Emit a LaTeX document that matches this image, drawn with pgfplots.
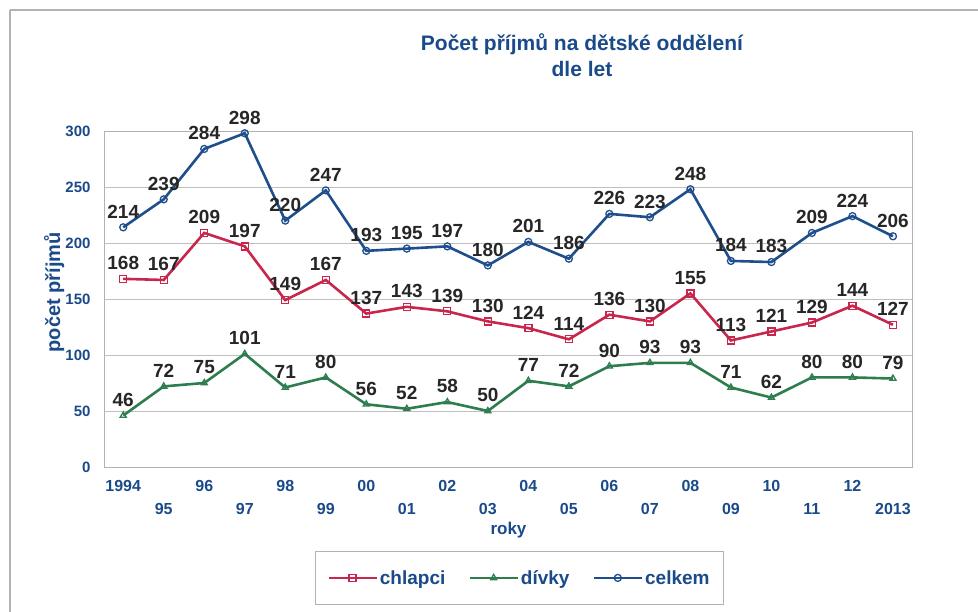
\documentclass[border=0pt]{standalone}
\usepackage{pgfplots}
\pgfplotsset{compat=1.18}
\usepackage{fontspec}
\setmainfont{Liberation Sans}
\definecolor{cred}{HTML}{C8264C}
\definecolor{cgreen}{HTML}{2E7D4F}
\definecolor{cblue}{HTML}{1F4E8C}
\definecolor{tblue}{HTML}{1A4A8A}
\newcommand{\sr}{\rule{0pt}{11.5pt}}
\begin{document}
\begin{tikzpicture}
\useasboundingbox (0pt,0pt) rectangle (978pt,-611pt);
\draw[gray!60, line width=1.2pt] (10pt,-10pt) -- (990pt,-10pt);
\draw[gray!60, line width=1.2pt] (10pt,-10pt) -- (10pt,-620pt);
\node[font=\bfseries\fontsize{21}{26}\selectfont, text=tblue, align=center] at (582pt,-55pt) {Počet příjmů na dětské oddělení\\dle let};
\begin{axis}[
  at={(105pt,-467pt)}, anchor=south west,
  scale only axis, width=807pt, height=336pt,
  xmin=-0.45, xmax=19.47, ymin=0, ymax=300,
  ytick={0,50,...,300},
  xtick={0,...,19},
  xticklabels={1994,{\sr\\95},96,{\sr\\97},98,{\sr\\99},00,{\sr\\01},02,{\sr\\03},04,{\sr\\05},06,{\sr\\07},08,{\sr\\09},10,{\sr\\11},12,{\sr\\2013}},
  xticklabel style={align=center, font=\bfseries\fontsize{16}{22}\selectfont, text=tblue, yshift=-10pt},
  yticklabel style={font=\bfseries\fontsize{15}{17}\selectfont, text=tblue, xshift=-11pt},
  /pgf/number format/assume math mode=true,
  major tick length=0pt,
  ymajorgrids, grid style={gray!50, line width=0.6pt},
  axis line style={gray!60, line width=1pt},
  ylabel={počet příjmů}, ylabel style={font=\bfseries\fontsize{20}{22}\selectfont, text=tblue, at={(axis description cs:-0.046,0.52)}},
  xlabel={roky}, xlabel style={font=\bfseries\fontsize{17}{19}\selectfont, text=tblue, yshift=-1pt},
  nodes near coords,
  every node near coord/.append style={font=\bfseries\fontsize{19}{21}\selectfont, text=black!85, yshift=5pt},
  legend style={at={(axis cs:9.78,-99)}, anchor=center, legend columns=3, draw=gray!60, line width=1pt,
     font=\bfseries\fontsize{19}{22}\selectfont, text=tblue, inner xsep=12pt, inner ysep=17pt,
     /tikz/every even column/.append style={column sep=21pt}},
  legend image code/.code={\draw[#1] (0pt,0pt) -- (24pt,0pt) plot coordinates {(24pt,0pt)} -- (48pt,0pt);},
  legend cell align=left,
]
\addplot[cred, line width=2.6pt, mark=square, mark size=3.5pt, mark options={line width=1.3pt, fill=white}] coordinates {
(0,168)(1,167)(2,209)(3,197)(4,149)(5,167)(6,137)(7,143)(8,139)(9,130)(10,124)(11,114)(12,136)(13,130)(14,155)(15,113)(16,121)(17,129)(18,144)(19,127)};
\addlegendentry{chlapci}
\addplot[cgreen, line width=2.6pt, mark=triangle, mark size=3.5pt, mark options={line width=1.3pt, fill=white}] coordinates {
(0,46)(1,72)(2,75)(3,101)(4,71)(5,80)(6,56)(7,52)(8,58)(9,50)(10,77)(11,72)(12,90)(13,93)(14,93)(15,71)(16,62)(17,80)(18,80)(19,79)};
\addlegendentry{dívky}
\addplot[cblue, line width=2.6pt, mark=o, mark size=3.5pt, mark options={line width=1.3pt, fill=white}] coordinates {
(0,214)(1,239)(2,284)(3,298)(4,220)(5,247)(6,193)(7,195)(8,197)(9,180)(10,201)(11,186)(12,226)(13,223)(14,248)(15,184)(16,183)(17,209)(18,224)(19,206)};
\addlegendentry{celkem}
\end{axis}
\end{tikzpicture}
\end{document}
